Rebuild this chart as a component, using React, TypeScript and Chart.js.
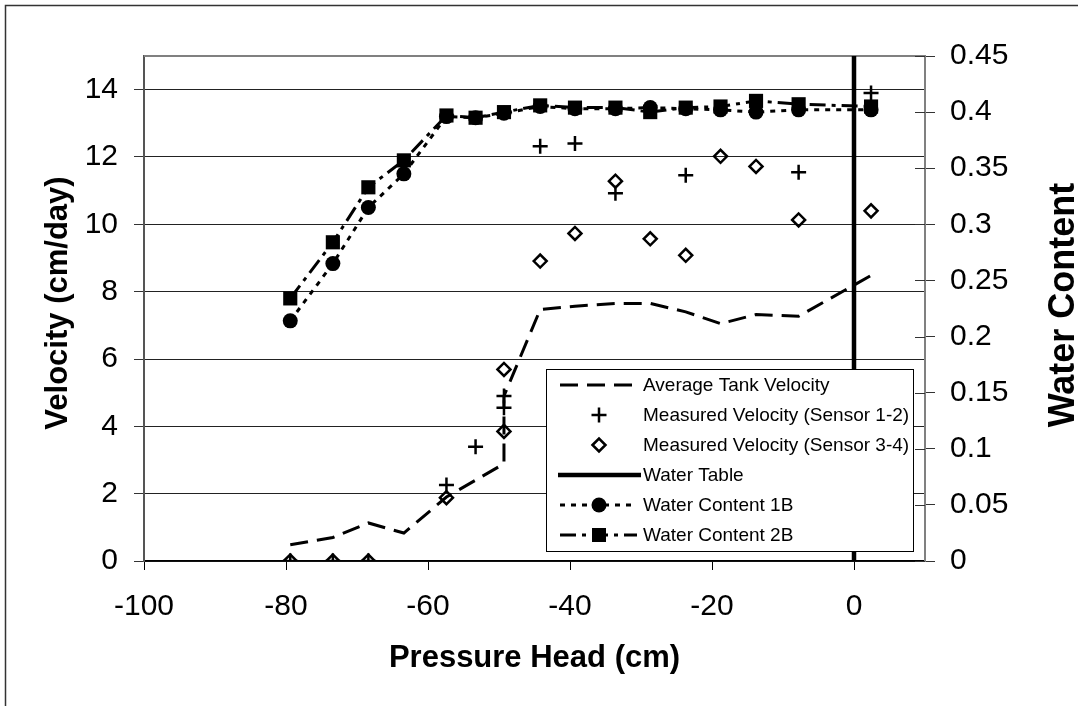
import React, { useEffect, useRef } from "react";
import { Chart, registerables } from "chart.js";

Chart.register(...registerables);

// ---------------- data ----------------
const avgPressure = [-79.4, -73.4, -68.4, -63.4, -57.4, -49.3, -49.3, -44.2, -39.3, -33.6, -28.7, -23.7, -18.8, -13.8, -7.8, 2.4];
const avgVelocity = [0.48, 0.7, 1.13, 0.83, 1.9, 2.89, 4.9, 7.47, 7.57, 7.65, 7.65, 7.4, 7.05, 7.32, 7.27, 8.48];

const s12Pressure = [-79.4, -73.4, -68.4, -57.4, -53.3, -49.3, -49.3, -44.2, -39.3, -33.6, -23.7, -7.8, 2.4];
const s12Velocity = [0, 0, 0, 2.26, 3.39, 4.9, 4.55, 12.32, 12.4, 10.92, 11.46, 11.55, 13.9];

const s34Pressure = [-79.4, -73.4, -68.4, -57.4, -49.3, -49.3, -44.2, -39.3, -33.6, -28.7, -23.7, -18.8, -13.8, -7.8, 2.4];
const s34Velocity = [0, 0, 0, 1.88, 5.69, 3.85, 8.91, 9.73, 11.28, 9.57, 9.08, 12.02, 11.72, 10.13, 10.4];

const waterTableX = [0, 0];
const waterTableY = [0, 15];

const wcPressure = [-79.4, -73.4, -68.4, -63.4, -57.4, -53.3, -49.3, -44.2, -39.3, -33.6, -28.7, -23.7, -18.8, -13.8, -7.8, 2.4];
const wc1B = [0.214, 0.265, 0.315, 0.345, 0.396, 0.395, 0.399, 0.405, 0.403, 0.403, 0.404, 0.403, 0.402, 0.4, 0.402, 0.402];
const wc2B = [0.234, 0.284, 0.333, 0.357, 0.397, 0.395, 0.4, 0.406, 0.404, 0.404, 0.4, 0.404, 0.405, 0.41, 0.407, 0.405];

const xTicks = [-100, -80, -60, -40, -20, 0];
const yTicks = [0, 2, 4, 6, 8, 10, 12, 14];
const y1Ticks = [0, 0.05, 0.1, 0.15, 0.2, 0.25, 0.3, 0.35, 0.4, 0.45];

const legendLabels = [
  "Average Tank Velocity",
  "Measured Velocity (Sensor 1-2)",
  "Measured Velocity (Sensor 3-4)",
  "Water Table",
  "Water Content 1B",
  "Water Content 2B",
];

const xTitle = "Pressure Head (cm)";
const yTitle = "Velocity (cm/day)";
const y1Title = "Water Content";

// ---------------- styling ----------------
const FONT = '"Liberation Sans", Arial, Helvetica, sans-serif';
const AVG_DASH = [18, 9];
const WC1_DASH = [5, 6];
const WC2_DASH = [16, 6, 4, 6];

const pts = (xs: number[], ys: number[]) => xs.map((x, i) => ({ x, y: ys[i] }));

function marker(ctx: CanvasRenderingContext2D, kind: string, x: number, y: number) {
  ctx.save();
  ctx.strokeStyle = "#000";
  ctx.fillStyle = "#000";
  ctx.setLineDash([]);
  ctx.beginPath();
  if (kind === "cross") {
    ctx.lineWidth = 2.5;
    ctx.moveTo(x - 7.5, y);
    ctx.lineTo(x + 7.5, y);
    ctx.moveTo(x, y - 7.5);
    ctx.lineTo(x, y + 7.5);
    ctx.stroke();
  } else if (kind === "diamond") {
    ctx.lineWidth = 2.5;
    ctx.moveTo(x - 6.5, y);
    ctx.lineTo(x, y - 6.5);
    ctx.lineTo(x + 6.5, y);
    ctx.lineTo(x, y + 6.5);
    ctx.closePath();
    ctx.stroke();
  } else if (kind === "circle") {
    ctx.arc(x, y, 7.5, 0, Math.PI * 2);
    ctx.fill();
  } else if (kind === "square") {
    ctx.rect(x - 7, y - 7, 14, 14);
    ctx.fill();
  }
  ctx.restore();
}

function sampleLine(ctx: CanvasRenderingContext2D, x0: number, x1: number, y: number, width: number, dash: number[]) {
  ctx.save();
  ctx.strokeStyle = "#000";
  ctx.lineWidth = width;
  ctx.lineCap = "butt";
  ctx.setLineDash(dash);
  ctx.beginPath();
  ctx.moveTo(x0, y);
  ctx.lineTo(x1, y);
  ctx.stroke();
  ctx.restore();
}

const decorPlugin = {
  id: "decor",
  beforeDatasetsDraw(chart: any) {
    const { ctx, chartArea: a } = chart;
    ctx.save();
    ctx.strokeStyle = "#808080";
    ctx.lineWidth = 2;
    ctx.beginPath();
    ctx.moveTo(a.left, a.top);
    ctx.lineTo(a.right, a.top);
    ctx.lineTo(a.right, a.bottom);
    ctx.stroke();
    ctx.restore();
  },
  afterDraw(chart: any) {
    const { ctx, chartArea: a } = chart;
    ctx.save();
    // outer frame
    ctx.strokeStyle = "#333";
    ctx.lineWidth = 1.5;
    ctx.beginPath();
    ctx.moveTo(5.5, 706);
    ctx.lineTo(5.5, 5.5);
    ctx.lineTo(1078, 5.5);
    ctx.stroke();

    // inner part of right-axis tick marks (cross style)
    const y1 = chart.scales.y1;
    ctx.strokeStyle = "#333";
    ctx.lineWidth = 1;
    ctx.beginPath();
    y1.ticks.forEach((t: any) => {
      const py = Math.round(y1.getPixelForValue(t.value)) + 0.5;
      ctx.moveTo(a.right - 10, py);
      ctx.lineTo(a.right, py);
    });
    ctx.stroke();

    // axis titles
    ctx.fillStyle = "#000";
    ctx.textAlign = "center";
    ctx.textBaseline = "alphabetic";
    ctx.font = `bold 31px ${FONT}`;
    ctx.fillText(xTitle, (a.left + a.right) / 2, 667);

    ctx.save();
    ctx.translate(67, 303);
    ctx.rotate(-Math.PI / 2);
    ctx.fillText(yTitle, 0, 0);
    ctx.restore();

    ctx.save();
    ctx.font = `bold 36px ${FONT}`;
    ctx.translate(1074, 305);
    ctx.rotate(-Math.PI / 2);
    ctx.fillText(y1Title, 0, 0);
    ctx.restore();

    // legend
    const L = 546, T = 369, R = 913, B = 551;
    ctx.fillStyle = "#fff";
    ctx.fillRect(L, T, R - L, B - T);
    ctx.strokeStyle = "#000";
    ctx.lineWidth = 1;
    ctx.setLineDash([]);
    ctx.strokeRect(L + 0.5, T + 0.5, R - L, B - T);

    const rowY = (i: number) => 385 + 30 * i;
    const sx0 = 560, sx1 = 637, mx = 599;
    sampleLine(ctx, sx0, sx1, rowY(0), 3, AVG_DASH);
    marker(ctx, "cross", mx, rowY(1));
    marker(ctx, "diamond", mx, rowY(2));
    sampleLine(ctx, 558, 641, rowY(3), 4.5, []);
    sampleLine(ctx, sx0, sx1, rowY(4), 3, WC1_DASH);
    marker(ctx, "circle", mx, rowY(4));
    sampleLine(ctx, sx0, sx1, rowY(5), 3, WC2_DASH);
    marker(ctx, "square", mx, rowY(5));

    ctx.fillStyle = "#000";
    ctx.font = `19px ${FONT}`;
    ctx.textAlign = "left";
    ctx.textBaseline = "middle";
    legendLabels.forEach((txt, i) => ctx.fillText(txt, 643, rowY(i) + 1));
    ctx.restore();
  },
};

export default function App() {
  const ref = useRef<HTMLCanvasElement>(null);

  useEffect(() => {
    const canvas = ref.current;
    if (!canvas) return;
    const tickFont = { family: FONT, size: 30 };
    const chart = new Chart(canvas, {
      type: "scatter",
      data: {
        datasets: [
          {
            label: legendLabels[0],
            data: pts(avgPressure, avgVelocity),
            yAxisID: "y",
            showLine: true,
            borderColor: "#000",
            backgroundColor: "#000",
            borderWidth: 3,
            borderDash: AVG_DASH,
            pointRadius: 0,
            order: 5,
          },
          {
            label: legendLabels[1],
            data: pts(s12Pressure, s12Velocity),
            yAxisID: "y",
            showLine: false,
            pointStyle: "cross",
            pointRadius: 7.5,
            pointBorderWidth: 2.5,
            borderColor: "#000",
            backgroundColor: "#000",
            order: 3,
          },
          {
            label: legendLabels[2],
            data: pts(s34Pressure, s34Velocity),
            yAxisID: "y",
            showLine: false,
            pointStyle: "rectRot",
            pointRadius: 6.5,
            pointBorderWidth: 2.5,
            borderColor: "#000",
            backgroundColor: "rgba(0,0,0,0)",
            order: 4,
          },
          {
            label: legendLabels[3],
            data: pts(waterTableX, waterTableY),
            yAxisID: "y",
            showLine: true,
            borderColor: "#000",
            backgroundColor: "#000",
            borderWidth: 4.5,
            pointRadius: 0,
            order: 2,
          },
          {
            label: legendLabels[4],
            data: pts(wcPressure, wc1B),
            yAxisID: "y1",
            showLine: true,
            borderColor: "#000",
            backgroundColor: "#000",
            borderWidth: 3,
            borderDash: WC1_DASH,
            pointStyle: "circle",
            pointRadius: 7.5,
            pointBorderWidth: 0,
            pointBackgroundColor: "#000",
            order: 1,
          },
          {
            label: legendLabels[5],
            data: pts(wcPressure, wc2B),
            yAxisID: "y1",
            showLine: true,
            borderColor: "#000",
            backgroundColor: "#000",
            borderWidth: 3,
            borderDash: WC2_DASH,
            pointStyle: "rect",
            pointRadius: 10,
            pointBorderWidth: 0,
            pointBackgroundColor: "#000",
            order: 0,
          },
        ],
      },
      options: {
        animation: false,
        responsive: false,
        devicePixelRatio: 1,
        events: [],
        layout: { padding: { top: 56, left: 0, right: 0, bottom: 0 } },
        plugins: {
          legend: { display: false },
          tooltip: { enabled: false },
          title: { display: false },
        },
        scales: {
          x: {
            type: "linear",
            position: "bottom",
            min: -100,
            max: 10,
            afterBuildTicks: (s: any) => {
              s.ticks = xTicks.map((v) => ({ value: v }));
            },
            afterFit: (s: any) => {
              s.height = 145;
            },
            grid: {
              drawOnChartArea: false,
              drawTicks: true,
              tickLength: 9,
              color: "#000",
              tickColor: "#000",
              lineWidth: 1,
            },
            border: { display: true, color: "#000", width: 1.5 },
            ticks: {
              font: tickFont,
              color: "#000",
              padding: 19,
              maxRotation: 0,
              autoSkip: false,
              callback: (v: any) => String(v),
            },
          },
          y: {
            type: "linear",
            position: "left",
            min: 0,
            max: 15,
            afterBuildTicks: (s: any) => {
              s.ticks = yTicks.map((v) => ({ value: v }));
            },
            afterFit: (s: any) => {
              s.width = 144;
            },
            grid: {
              drawOnChartArea: true,
              drawTicks: true,
              tickLength: 10,
              color: "#222",
              tickColor: "#333",
              lineWidth: 1,
            },
            border: { display: true, color: "#555", width: 2 },
            ticks: {
              font: tickFont,
              color: "#000",
              padding: 16,
              autoSkip: false,
              callback: (v: any) => String(v),
            },
          },
          y1: {
            type: "linear",
            position: "right",
            min: 0,
            max: 0.45,
            afterBuildTicks: (s: any) => {
              s.ticks = y1Ticks.map((v) => ({ value: v }));
            },
            afterFit: (s: any) => {
              s.width = 153;
            },
            grid: {
              drawOnChartArea: false,
              drawTicks: true,
              tickLength: 10,
              tickColor: "#333",
              lineWidth: 1,
            },
            border: { display: true, color: "#808080", width: 2 },
            ticks: {
              font: tickFont,
              color: "#000",
              padding: 15,
              autoSkip: false,
              callback: (v: any) => String(Math.round(Number(v) * 100) / 100),
            },
          },
        },
      },
      plugins: [decorPlugin],
    } as any);
    return () => chart.destroy();
  }, []);

  return (
    <div style={{ position: "absolute", left: 0, top: 0, width: 1078, height: 706, background: "#fff" }}>
      <canvas ref={ref} width={1078} height={706} style={{ display: "block", width: 1078, height: 706 }} />
    </div>
  );
}
